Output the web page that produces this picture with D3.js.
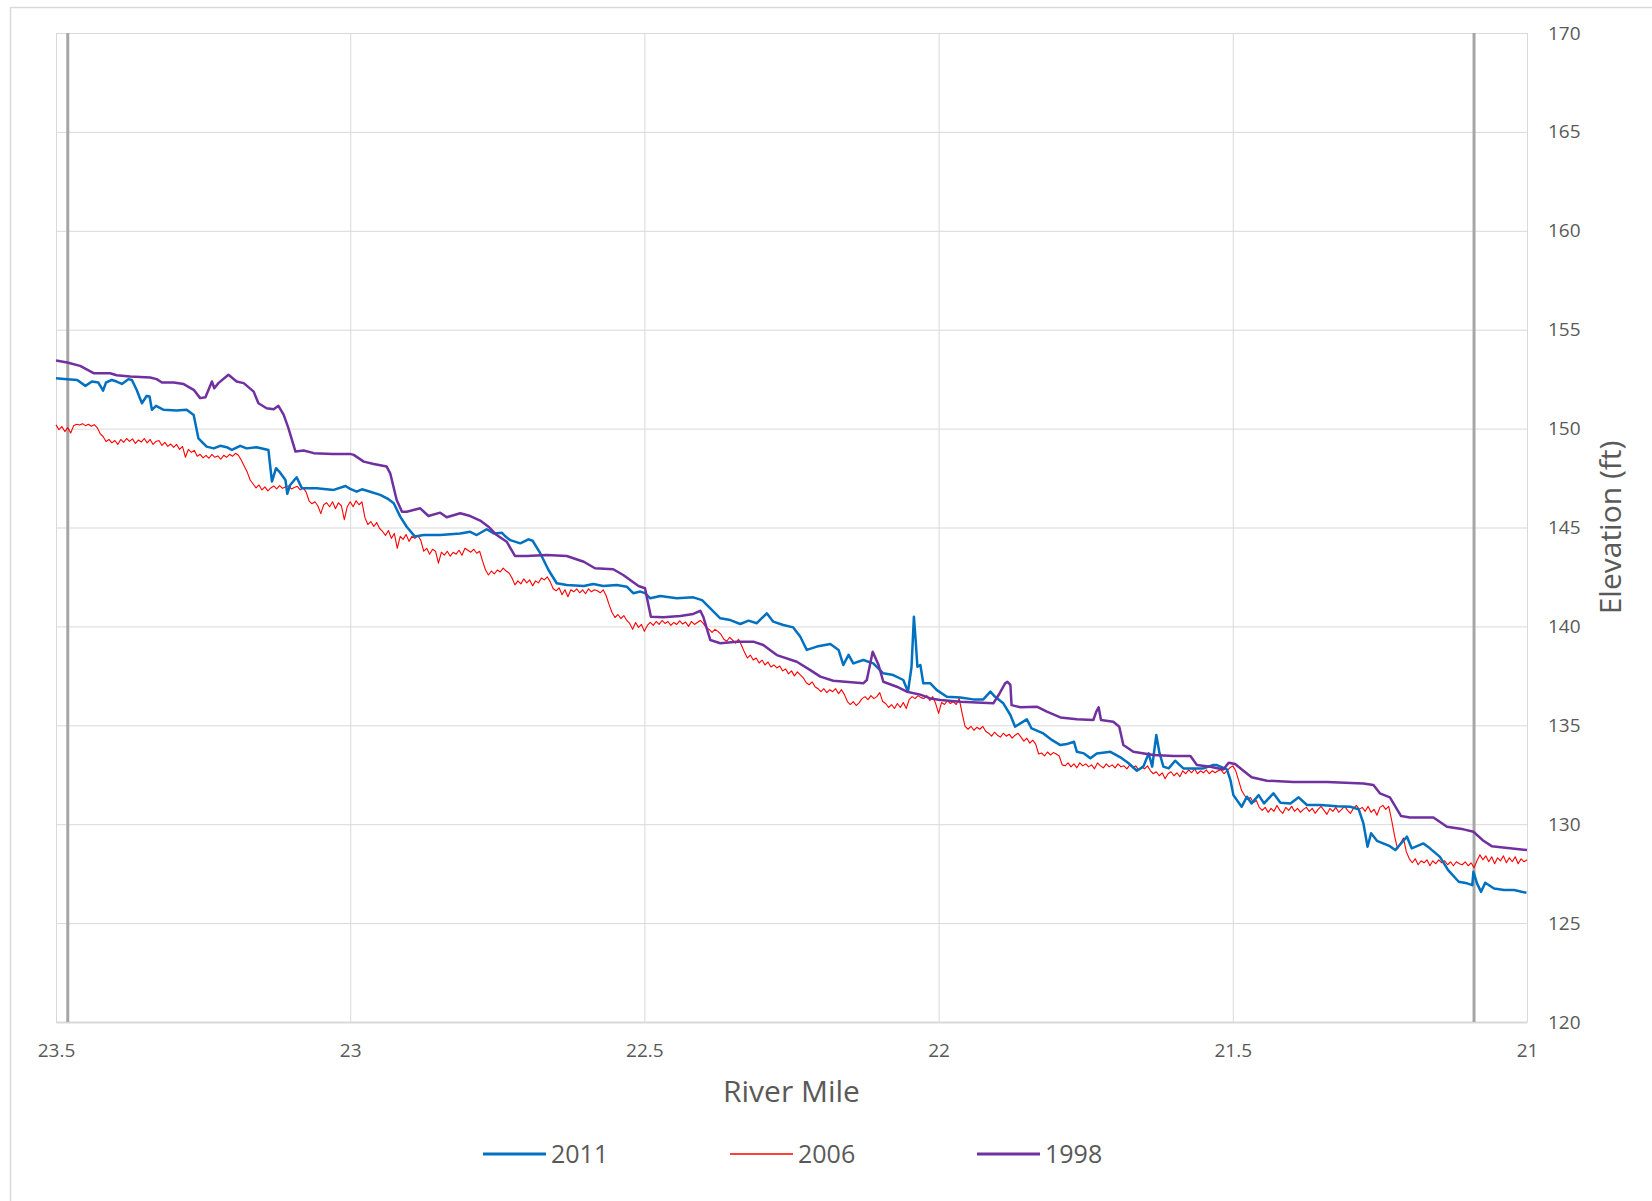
<!DOCTYPE html>
<html lang="en">
<head>
<meta charset="UTF-8">
<title>River Mile profile</title>
<script src="https://cdn.jsdelivr.net/npm/d3@7/dist/d3.min.js"></script>
<style>
    body { margin: 0; background: #fff; }
    text { font-family: "Open Sans", "Noto Sans", sans-serif; fill: #595959; }
</style>
</head>
<body>
<script>
// values: [river mile, elevation ft]
const xTicks = [23.5, 23, 22.5, 22, 21.5, 21];
const yTicks = [120, 125, 130, 135, 140, 145, 150, 155, 160, 165, 170];
const boundaryMiles = [23.48, 21.09];
const seriesNames = ["2011", "2006", "1998"];
const seriesColors = ["#0070C0", "#FF0000", "#7030A0"];

const elev2011 = [[23.50,152.55],[23.481,152.50],[23.464,152.46],[23.45,152.16],[23.439,152.38],[23.428,152.33],[23.42,151.92],[23.415,152.33],[23.405,152.46],[23.397,152.38],[23.388,152.26],[23.377,152.50],[23.371,152.46],[23.363,151.96],[23.354,151.28],[23.346,151.65],[23.341,151.62],[23.337,150.95],[23.33,151.15],[23.317,150.95],[23.295,150.91],[23.278,150.95],[23.266,150.69],[23.258,149.51],[23.244,149.09],[23.232,149.00],[23.221,149.13],[23.21,149.06],[23.201,148.92],[23.187,149.13],[23.176,149.00],[23.159,149.06],[23.139,148.92],[23.133,147.32],[23.126,148.00],[23.119,147.77],[23.11,147.40],[23.107,146.70],[23.102,147.15],[23.091,147.54],[23.082,146.98],[23.057,146.98],[23.028,146.90],[23.008,147.10],[23.0,146.95],[22.989,146.81],[22.98,146.93],[22.966,146.81],[22.949,146.65],[22.935,146.43],[22.926,146.23],[22.915,145.55],[22.904,145.04],[22.89,144.54],[22.875,144.62],[22.847,144.62],[22.813,144.70],[22.796,144.78],[22.785,144.62],[22.768,144.91],[22.756,144.70],[22.742,144.73],[22.737,144.57],[22.728,144.36],[22.711,144.20],[22.697,144.40],[22.69,144.33],[22.677,143.70],[22.663,142.85],[22.649,142.18],[22.632,142.09],[22.603,142.04],[22.587,142.14],[22.57,142.04],[22.547,142.09],[22.53,142.01],[22.519,141.68],[22.507,141.76],[22.499,141.68],[22.49,141.42],[22.473,141.54],[22.445,141.42],[22.417,141.47],[22.402,141.33],[22.388,140.91],[22.371,140.41],[22.354,140.32],[22.337,140.12],[22.323,140.29],[22.309,140.16],[22.292,140.66],[22.281,140.24],[22.264,140.07],[22.247,139.95],[22.235,139.48],[22.224,138.81],[22.207,138.98],[22.184,139.11],[22.17,138.81],[22.162,138.05],[22.153,138.56],[22.145,138.13],[22.128,138.30],[22.111,138.13],[22.094,137.63],[22.077,137.54],[22.06,137.29],[22.052,136.70],[22.046,137.96],[22.042,140.49],[22.039,139.30],[22.036,137.96],[22.031,138.05],[22.026,137.12],[22.014,137.12],[22.003,136.78],[21.986,136.44],[21.963,136.41],[21.941,136.31],[21.924,136.31],[21.912,136.70],[21.904,136.44],[21.89,136.11],[21.878,135.52],[21.87,134.93],[21.861,135.10],[21.85,135.30],[21.842,134.84],[21.822,134.59],[21.807,134.25],[21.793,134.00],[21.782,134.05],[21.77,134.17],[21.765,133.66],[21.753,133.58],[21.742,133.33],[21.731,133.58],[21.708,133.66],[21.691,133.38],[21.677,133.08],[21.663,132.70],[21.652,132.91],[21.643,133.58],[21.637,132.91],[21.63,134.51],[21.625,133.66],[21.618,132.91],[21.609,132.82],[21.598,133.21],[21.584,132.82],[21.55,132.82],[21.533,132.99],[21.527,132.99],[21.51,132.77],[21.504,132.23],[21.499,131.47],[21.485,130.88],[21.476,131.39],[21.468,131.05],[21.456,131.47],[21.447,131.05],[21.431,131.56],[21.419,131.08],[21.402,131.05],[21.388,131.36],[21.374,130.97],[21.351,130.97],[21.323,130.91],[21.30,130.88],[21.286,130.75],[21.278,130.04],[21.271,128.86],[21.265,129.54],[21.255,129.16],[21.233,128.89],[21.224,128.69],[21.213,129.06],[21.204,129.37],[21.196,128.78],[21.176,129.03],[21.165,128.78],[21.148,128.35],[21.134,127.68],[21.116,127.09],[21.102,127.01],[21.093,126.92],[21.091,127.59],[21.085,127.01],[21.078,126.58],[21.071,127.04],[21.056,126.75],[21.039,126.67],[21.022,126.67],[21.001,126.53]];

const elev2006 = [[23.50,150.19],[23.495,149.95],[23.49,150.10],[23.485,149.85],[23.48,150.05],[23.475,149.78],[23.47,150.15],[23.465,150.22],[23.46,150.18],[23.455,150.25],[23.45,150.15],[23.445,150.22],[23.44,150.12],[23.435,150.20],[23.43,150.05],[23.425,149.75],[23.42,149.60],[23.415,149.35],[23.41,149.45],[23.405,149.28],[23.40,149.40],[23.395,149.20],[23.39,149.45],[23.385,149.30],[23.38,149.50],[23.375,149.35],[23.37,149.48],[23.365,149.25],[23.36,149.42],[23.355,149.32],[23.35,149.50],[23.345,149.28],[23.34,149.45],[23.335,149.20],[23.33,149.35],[23.325,149.40],[23.32,149.15],[23.315,149.30],[23.31,149.10],[23.305,149.22],[23.30,149.05],[23.295,149.20],[23.29,148.95],[23.285,149.10],[23.28,148.55],[23.275,148.95],[23.27,148.80],[23.265,148.90],[23.26,148.60],[23.255,148.70],[23.25,148.52],[23.245,148.65],[23.24,148.50],[23.235,148.70],[23.23,148.55],[23.225,148.62],[23.22,148.45],[23.215,148.65],[23.21,148.55],[23.205,148.70],[23.20,148.60],[23.195,148.75],[23.19,148.65],[23.185,148.40],[23.18,148.10],[23.175,147.80],[23.17,147.40],[23.165,147.20],[23.16,147.00],[23.155,147.15],[23.15,146.90],[23.145,147.05],[23.14,146.85],[23.135,147.00],[23.13,147.10],[23.125,146.95],[23.12,147.12],[23.115,146.98],[23.11,147.05],[23.105,147.10],[23.10,146.95],[23.095,147.02],[23.09,147.08],[23.085,146.90],[23.08,147.00],[23.075,146.80],[23.07,146.35],[23.065,146.20],[23.06,146.30],[23.055,146.10],[23.05,145.70],[23.045,146.15],[23.04,146.25],[23.035,146.05],[23.03,146.30],[23.025,145.95],[23.02,146.25],[23.015,146.10],[23.01,145.40],[23.005,146.05],[23.00,146.30],[22.995,146.05],[22.99,146.35],[22.985,146.15],[22.98,146.30],[22.975,145.50],[22.97,145.15],[22.965,145.30],[22.96,145.05],[22.955,145.25],[22.95,144.95],[22.945,144.80],[22.94,144.60],[22.935,144.85],[22.93,144.45],[22.925,144.70],[22.92,143.95],[22.915,144.55],[22.91,144.40],[22.905,144.65],[22.90,144.30],[22.895,144.55],[22.89,144.45],[22.885,144.60],[22.88,144.35],[22.875,143.80],[22.87,143.95],[22.865,143.65],[22.86,143.90],[22.855,143.80],[22.85,143.20],[22.845,143.75],[22.84,143.60],[22.835,143.80],[22.83,143.55],[22.825,143.75],[22.82,143.65],[22.815,143.85],[22.81,143.60],[22.805,143.95],[22.80,143.85],[22.795,143.75],[22.79,143.90],[22.785,143.70],[22.78,143.80],[22.775,143.30],[22.77,142.85],[22.765,142.60],[22.76,142.80],[22.755,142.65],[22.75,142.85],[22.745,142.75],[22.74,142.95],[22.735,142.80],[22.73,142.70],[22.725,142.45],[22.72,142.10],[22.715,142.30],[22.71,142.15],[22.705,142.40],[22.70,142.20],[22.695,142.35],[22.69,142.05],[22.685,142.30],[22.68,142.20],[22.675,142.45],[22.67,142.35],[22.665,142.50],[22.66,142.25],[22.655,141.90],[22.65,141.80],[22.645,141.95],[22.64,141.60],[22.635,141.85],[22.63,141.50],[22.625,141.85],[22.62,141.75],[22.615,141.90],[22.61,141.70],[22.605,141.85],[22.60,141.65],[22.595,141.90],[22.59,141.75],[22.585,141.85],[22.58,141.80],[22.575,141.70],[22.57,141.85],[22.565,141.55],[22.56,141.10],[22.555,140.70],[22.55,140.45],[22.545,140.60],[22.54,140.40],[22.535,140.55],[22.53,140.30],[22.525,140.15],[22.52,139.85],[22.515,140.20],[22.51,139.95],[22.505,140.10],[22.50,139.75],[22.495,140.05],[22.49,140.20],[22.485,140.05],[22.48,140.25],[22.475,140.10],[22.47,140.30],[22.465,140.15],[22.46,140.25],[22.455,140.05],[22.45,140.20],[22.445,140.10],[22.44,140.28],[22.435,140.12],[22.43,140.22],[22.425,140.00],[22.42,140.25],[22.415,140.10],[22.41,140.20],[22.405,140.30],[22.40,140.15],[22.395,139.95],[22.39,139.85],[22.385,139.70],[22.38,139.85],[22.375,139.75],[22.37,139.60],[22.365,139.35],[22.36,139.25],[22.355,139.45],[22.35,139.30],[22.345,139.15],[22.34,139.35],[22.335,139.05],[22.33,138.70],[22.325,138.40],[22.32,138.55],[22.315,138.30],[22.31,138.40],[22.305,138.15],[22.30,138.30],[22.295,138.05],[22.29,138.20],[22.285,137.95],[22.28,138.05],[22.275,137.90],[22.27,138.00],[22.265,137.75],[22.26,137.85],[22.255,137.60],[22.25,137.75],[22.245,137.50],[22.24,137.70],[22.235,137.55],[22.23,137.40],[22.225,137.15],[22.22,137.05],[22.215,137.20],[22.21,136.95],[22.205,136.85],[22.20,136.70],[22.195,136.85],[22.19,136.65],[22.185,136.80],[22.18,136.70],[22.175,136.85],[22.17,136.60],[22.165,136.80],[22.16,136.55],[22.155,136.20],[22.15,136.05],[22.145,136.20],[22.14,136.00],[22.135,136.15],[22.13,136.35],[22.125,136.45],[22.12,136.30],[22.115,136.50],[22.11,136.35],[22.105,136.45],[22.10,136.65],[22.095,136.20],[22.09,136.10],[22.085,135.90],[22.08,136.05],[22.075,135.85],[22.07,136.10],[22.065,135.90],[22.06,136.15],[22.055,135.85],[22.05,136.30],[22.045,136.45],[22.04,136.35],[22.035,136.50],[22.03,136.40],[22.025,136.35],[22.02,136.50],[22.015,136.25],[22.01,136.45],[22.005,136.10],[22.00,135.60],[21.995,136.15],[21.99,136.05],[21.985,136.25],[21.98,136.10],[21.975,136.20],[21.97,136.05],[21.965,136.35],[21.96,135.60],[21.955,134.95],[21.95,134.80],[21.945,134.95],[21.94,134.75],[21.935,134.90],[21.93,134.80],[21.925,134.95],[21.92,134.70],[21.915,134.60],[21.91,134.45],[21.905,134.65],[21.90,134.50],[21.895,134.40],[21.89,134.60],[21.885,134.45],[21.88,134.55],[21.875,134.35],[21.87,134.50],[21.865,134.60],[21.86,134.40],[21.855,134.20],[21.85,134.35],[21.845,134.10],[21.84,134.25],[21.835,134.05],[21.83,133.55],[21.825,133.60],[21.82,133.45],[21.815,133.65],[21.81,133.50],[21.805,133.62],[21.80,133.55],[21.795,133.45],[21.79,133.00],[21.785,132.95],[21.78,133.10],[21.775,132.90],[21.77,133.05],[21.765,132.85],[21.76,133.10],[21.755,132.95],[21.75,133.05],[21.745,132.90],[21.74,133.00],[21.735,132.80],[21.73,133.10],[21.725,132.95],[21.72,132.85],[21.715,133.05],[21.71,132.90],[21.705,133.00],[21.70,132.85],[21.695,133.05],[21.69,132.90],[21.685,132.95],[21.68,132.80],[21.675,133.00],[21.67,132.85],[21.665,132.95],[21.66,132.75],[21.655,132.90],[21.65,132.80],[21.645,132.95],[21.64,132.70],[21.635,132.55],[21.63,132.65],[21.625,132.45],[21.62,132.60],[21.615,132.30],[21.61,132.55],[21.605,132.65],[21.60,132.45],[21.595,132.60],[21.59,132.40],[21.585,132.70],[21.58,132.55],[21.575,132.75],[21.57,132.60],[21.565,132.80],[21.56,132.55],[21.555,132.70],[21.55,132.60],[21.545,132.75],[21.54,132.55],[21.535,132.70],[21.53,132.60],[21.525,132.70],[21.52,132.75],[21.515,132.55],[21.51,132.70],[21.505,132.85],[21.50,132.95],[21.495,132.70],[21.49,132.20],[21.485,131.70],[21.48,131.45],[21.475,131.25],[21.47,131.35],[21.465,131.10],[21.46,131.20],[21.455,130.85],[21.45,130.70],[21.445,130.85],[21.44,130.60],[21.435,130.80],[21.43,130.65],[21.425,130.95],[21.42,130.70],[21.415,130.55],[21.41,130.85],[21.405,130.70],[21.40,130.90],[21.395,130.65],[21.39,130.80],[21.385,130.60],[21.38,130.75],[21.375,130.85],[21.37,130.65],[21.365,130.80],[21.36,130.55],[21.355,130.75],[21.35,130.90],[21.345,130.70],[21.34,130.50],[21.335,130.80],[21.33,130.65],[21.325,130.85],[21.32,130.60],[21.315,130.75],[21.31,130.90],[21.305,130.70],[21.30,130.55],[21.295,130.80],[21.29,130.95],[21.285,130.75],[21.28,130.85],[21.275,130.65],[21.27,130.90],[21.265,130.60],[21.26,130.75],[21.255,130.45],[21.25,130.85],[21.245,130.95],[21.24,130.75],[21.235,130.90],[21.23,130.20],[21.225,129.40],[21.22,128.75],[21.215,129.05],[21.21,129.30],[21.205,128.60],[21.20,128.25],[21.195,128.05],[21.19,128.25],[21.185,127.95],[21.18,128.15],[21.175,128.05],[21.17,128.20],[21.165,127.90],[21.16,128.15],[21.155,128.00],[21.15,128.20],[21.145,128.05],[21.14,128.15],[21.135,127.95],[21.13,128.10],[21.125,127.90],[21.12,128.10],[21.115,128.00],[21.11,127.95],[21.105,128.10],[21.10,127.90],[21.095,128.05],[21.09,127.80],[21.085,128.15],[21.08,128.45],[21.075,128.20],[21.07,128.40],[21.065,128.10],[21.06,128.35],[21.055,128.00],[21.05,128.30],[21.045,128.15],[21.04,128.40],[21.035,128.05],[21.03,128.30],[21.025,128.10],[21.02,128.35],[21.015,128.00],[21.01,128.25],[21.005,128.10],[21.00,128.20]];

const elev1998 = [[23.50,153.44],[23.481,153.34],[23.459,153.17],[23.436,152.80],[23.408,152.80],[23.397,152.70],[23.374,152.63],[23.34,152.58],[23.329,152.50],[23.32,152.33],[23.30,152.33],[23.283,152.25],[23.266,151.96],[23.255,151.54],[23.246,151.59],[23.235,152.38],[23.231,152.04],[23.224,152.30],[23.207,152.72],[23.193,152.38],[23.181,152.30],[23.164,151.87],[23.156,151.28],[23.142,151.03],[23.13,150.98],[23.122,151.15],[23.113,150.69],[23.105,150.02],[23.093,148.84],[23.079,148.89],[23.062,148.76],[23.03,148.72],[23.00,148.72],[22.994,148.67],[22.977,148.33],[22.96,148.21],[22.938,148.08],[22.932,147.74],[22.921,146.39],[22.912,145.80],[22.904,145.80],[22.881,145.97],[22.867,145.58],[22.847,145.75],[22.836,145.52],[22.813,145.72],[22.796,145.58],[22.779,145.35],[22.765,145.04],[22.751,144.62],[22.734,144.28],[22.72,143.56],[22.70,143.56],[22.666,143.61],[22.632,143.56],[22.603,143.27],[22.584,142.94],[22.553,142.89],[22.536,142.60],[22.51,142.04],[22.499,141.93],[22.489,140.49],[22.468,140.46],[22.439,140.53],[22.417,140.63],[22.405,140.79],[22.40,140.49],[22.388,139.31],[22.371,139.15],[22.343,139.23],[22.315,139.23],[22.298,139.06],[22.275,138.55],[22.241,138.21],[22.218,137.79],[22.201,137.46],[22.179,137.25],[22.128,137.12],[22.122,137.29],[22.112,138.72],[22.102,138.05],[22.094,137.20],[22.071,136.95],[22.054,136.70],[22.031,136.55],[22.014,136.36],[21.997,136.28],[21.963,136.19],[21.907,136.11],[21.898,136.53],[21.887,137.12],[21.883,137.20],[21.878,137.04],[21.876,136.02],[21.861,135.91],[21.833,135.94],[21.816,135.69],[21.793,135.40],[21.765,135.30],[21.737,135.27],[21.732,135.69],[21.728,135.91],[21.724,135.27],[21.703,135.18],[21.693,134.93],[21.686,134.00],[21.669,133.66],[21.635,133.50],[21.601,133.45],[21.572,133.45],[21.561,132.99],[21.538,132.90],[21.516,132.77],[21.507,133.11],[21.496,133.04],[21.482,132.70],[21.468,132.37],[21.442,132.20],[21.397,132.13],[21.34,132.13],[21.278,132.06],[21.261,131.98],[21.25,131.56],[21.233,131.36],[21.214,130.41],[21.199,130.34],[21.159,130.34],[21.136,129.87],[21.108,129.74],[21.091,129.62],[21.074,129.16],[21.06,128.89],[21.029,128.78],[21.0,128.69]];

const allSeries = [elev2011, elev2006, elev1998];

const W = 1652, H = 1201;
const plotLeft = 56, plotRight = 1527, plotTop = 33, plotBottom = 1022;

const svg = d3.select("body").append("svg")
    .attr("width", W)
    .attr("height", H);

// chart area border
svg.append("rect")
    .attr("x", 10.5).attr("y", 7.5)
    .attr("width", 1700).attr("height", 1300)
    .attr("fill", "none")
    .attr("stroke", "#D9D9D9")
    .attr("stroke-width", 1.5);

const x = d3.scaleLinear().domain([23.5, 21]).range([plotLeft, plotRight]);
const y = d3.scaleLinear().domain([120, 170]).range([plotBottom, plotTop]);

// gridlines
svg.append("g")
    .attr("transform", "translate(0," + plotBottom + ")")
    .call(d3.axisBottom(x).tickValues(xTicks).tickSize(-(plotBottom - plotTop)).tickFormat(""))
    .call(g => g.select(".domain").remove())
    .call(g => g.selectAll("line").attr("stroke", "#D9D9D9"));

svg.append("g")
    .attr("transform", "translate(" + plotLeft + ",0)")
    .call(d3.axisLeft(y).tickValues(yTicks).tickSize(-(plotRight - plotLeft)).tickFormat(""))
    .call(g => g.select(".domain").remove())
    .call(g => g.selectAll("line").attr("stroke", "#D9D9D9"));

// x axis labels
svg.append("g")
    .attr("transform", "translate(0," + plotBottom + ")")
    .call(d3.axisBottom(x).tickValues(xTicks).tickSize(0).tickPadding(22).tickFormat(d => String(d)))
    .call(g => g.select(".domain").attr("stroke", "#D9D9D9").attr("stroke-width", 2))
    .call(g => g.selectAll("text").style("font-size", "19px").attr("fill", "#595959"));

// y axis labels, right side
svg.append("g")
    .attr("transform", "translate(" + plotRight + ",0)")
    .call(d3.axisRight(y).tickValues(yTicks).tickSize(0).tickPadding(21))
    .call(g => g.select(".domain").remove())
    .call(g => g.selectAll("text").style("font-size", "19px").attr("fill", "#595959"));

// section boundary markers
svg.append("g").selectAll("line")
    .data(boundaryMiles)
    .join("line")
    .attr("x1", d => x(d)).attr("x2", d => x(d))
    .attr("y1", plotTop).attr("y2", plotBottom)
    .attr("stroke", "#A6A6A6")
    .attr("stroke-width", 3);

const line = d3.line()
    .x(d => x(d[0]))
    .y(d => y(d[1]));

const widths = [2.5, 1.1, 2.5];
const drawOrder = [1, 0, 2];
drawOrder.forEach(i => {
    svg.append("path")
        .datum(allSeries[i])
        .attr("fill", "none")
        .attr("stroke", seriesColors[i])
        .attr("stroke-width", widths[i])
        .attr("stroke-linejoin", "round")
        .attr("d", line);
});

// axis titles
svg.append("text")
    .attr("x", (plotLeft + plotRight) / 2)
    .attr("y", 1102)
    .attr("text-anchor", "middle")
    .style("font-size", "30px")
    .text("River Mile");

svg.append("text")
    .attr("transform", "translate(1621," + ((plotTop + plotBottom) / 2) + ") rotate(-90)")
    .attr("text-anchor", "middle")
    .style("font-size", "30px")
    .text("Elevation (ft)");

// legend
const legendX = [483, 730, 977];
const legend = svg.append("g");
seriesNames.forEach((name, i) => {
    legend.append("line")
        .attr("x1", legendX[i]).attr("x2", legendX[i] + 63)
        .attr("y1", 1154).attr("y2", 1154)
        .attr("stroke", seriesColors[i])
        .attr("stroke-width", i === 1 ? 1.5 : 3);
    legend.append("text")
        .attr("x", legendX[i] + 68)
        .attr("y", 1163)
        .style("font-size", "25px")
        .text(name);
});
</script>
</body>
</html>
